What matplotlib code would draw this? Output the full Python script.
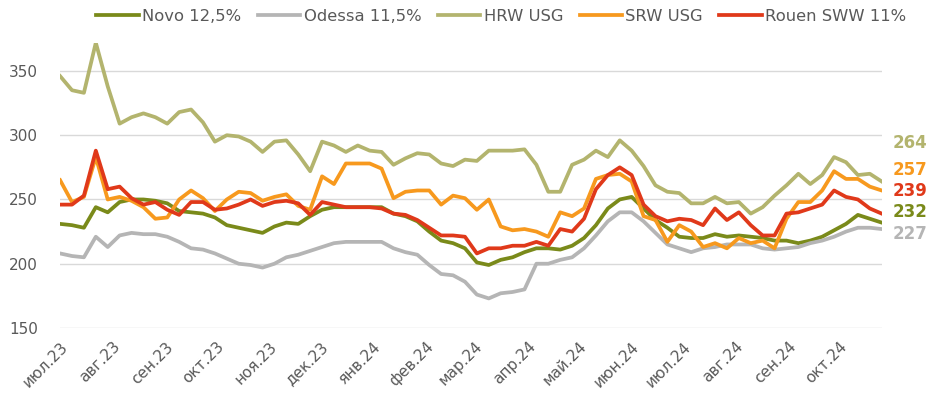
import matplotlib
matplotlib.use("Agg")
import numpy as np
import pandas as pd
import matplotlib.pyplot as plt
import matplotlib.dates as mdates

# weekly samples, 1 Jul 2023 .. end Oct 2024
DATES = pd.date_range("2023-07-01", periods=70, freq="7D")

NOVO = [231, 230, 228, 244, 240, 248, 250, 250, 249, 247,
        241, 240, 239, 236, 230, 228, 226, 224, 229, 232,
        231, 237, 242, 244, 244, 244, 244, 244, 239, 237,
        233, 225, 218, 216, 212, 201, 199, 203, 205, 209,
        212, 212, 211, 214, 220, 230, 243, 250, 252, 243,
        234, 228, 221, 220, 220, 223, 221, 222, 221, 220,
        218, 218, 216, 218, 221, 226, 231, 238, 235, 232]
ODESSA = [208, 206, 205, 221, 213, 222, 224, 223, 223, 221,
          217, 212, 211, 208, 204, 200, 199, 197, 200, 205,
          207, 210, 213, 216, 217, 217, 217, 217, 212, 209,
          207, 199, 192, 191, 186, 176, 173, 177, 178, 180,
          200, 200, 203, 205, 212, 222, 233, 240, 240, 233,
          224, 215, 212, 209, 212, 213, 215, 215, 215, 212,
          211, 212, 213, 216, 218, 221, 225, 228, 228, 227]
HRW = [346, 335, 333, 372, 338, 309, 314, 317, 314, 309,
       318, 320, 310, 295, 300, 299, 295, 287, 295, 296,
       285, 272, 295, 292, 287, 292, 288, 287, 277, 282,
       286, 285, 278, 276, 281, 280, 288, 288, 288, 289,
       277, 256, 256, 277, 281, 288, 283, 296, 288, 276,
       261, 256, 255, 247, 247, 252, 247, 248, 239, 244,
       253, 261, 270, 262, 269, 283, 279, 269, 270, 264]
SRW = [265, 248, 252, 283, 250, 252, 249, 244, 235, 236,
       250, 257, 251, 241, 250, 256, 255, 249, 252, 254,
       245, 242, 268, 262, 278, 278, 278, 274, 251, 256,
       257, 257, 246, 253, 251, 242, 250, 229, 226, 227,
       225, 221, 240, 237, 243, 266, 269, 270, 264, 237,
       234, 217, 230, 225, 213, 216, 212, 220, 216, 218,
       212, 235, 248, 248, 257, 272, 266, 266, 260, 257]
ROUEN = [246, 246, 253, 288, 258, 260, 251, 246, 248, 242,
         238, 248, 248, 242, 243, 246, 250, 245, 248, 249,
         247, 238, 248, 246, 244, 244, 244, 243, 239, 238,
         234, 228, 222, 222, 221, 208, 212, 212, 214, 214,
         217, 214, 227, 225, 235, 258, 269, 275, 269, 246,
         237, 233, 235, 234, 230, 243, 234, 240, 230, 222,
         222, 239, 240, 243, 246, 257, 252, 250, 243, 239]

SERIES_NAMES = ["Novo 12,5%", "Odessa 11,5%", "HRW USG", "SRW USG", "Rouen SWW 11%"]
MONTHS_RU = ["янв", "фев", "мар", "апр", "май", "июн", "июл", "авг", "сен", "окт", "ноя", "дек"]

COLORS = ["#7a8a1a", "#b5b5b5", "#b3b46e", "#f7991e", "#e0391a"]
# stacked positions (data units) of the end-value labels, top to bottom: HRW, SRW, Rouen, Novo, Odessa
LABEL_ORDER = [2, 3, 4, 0, 1]
LABEL_Y = [294, 273, 256.5, 240, 223]

plt.rcParams["font.family"] = ["DejaVu Sans"]

fig = plt.figure(figsize=(9.39, 3.99), dpi=100)
ax = fig.add_axes([0.064, 0.178, 0.875, 0.715])

all_series = [NOVO, ODESSA, HRW, SRW, ROUEN]
for name, values, color in zip(SERIES_NAMES, all_series, COLORS):
    ax.plot(DATES, values, color=color, lw=2.7, label=name, solid_joinstyle="round")

ax.set_xlim(DATES[0], DATES[-1])
ax.set_ylim(150, 372)
ax.set_yticks([150, 200, 250, 300, 350])
ax.grid(True, axis="y", color="#d9d9d9", lw=1)
ax.set_axisbelow(True)
for s in ax.spines.values():
    s.set_visible(False)

ax.xaxis.set_major_locator(mdates.MonthLocator())
ax.xaxis.set_major_formatter(plt.FuncFormatter(
    lambda v, pos: f"{MONTHS_RU[mdates.num2date(v).month - 1]}.{mdates.num2date(v).year % 100}"))
ax.tick_params(axis="both", length=0, labelsize=11, labelcolor="#595959")
ax.tick_params(axis="y", pad=16)
ax.tick_params(axis="x", pad=8)
for lbl in ax.get_xticklabels():
    lbl.set_rotation(45)
    lbl.set_ha("right")
    lbl.set_rotation_mode("anchor")

for idx, ly in zip(LABEL_ORDER, LABEL_Y):
    ax.annotate(f"{all_series[idx][-1]:.0f}", xy=(DATES[-1], ly), xytext=(8, 0),
                textcoords="offset points", va="center", ha="left",
                fontsize=12, fontweight="bold", color=COLORS[idx], annotation_clip=False)

fig.legend(loc="upper center", bbox_to_anchor=(0.534, 1.015), ncol=5, frameon=False,
           fontsize=11.8, handlelength=2.6, handletextpad=0.2, columnspacing=1.0,
           labelcolor="#595959")

fig.savefig("out.png", dpi=100)
